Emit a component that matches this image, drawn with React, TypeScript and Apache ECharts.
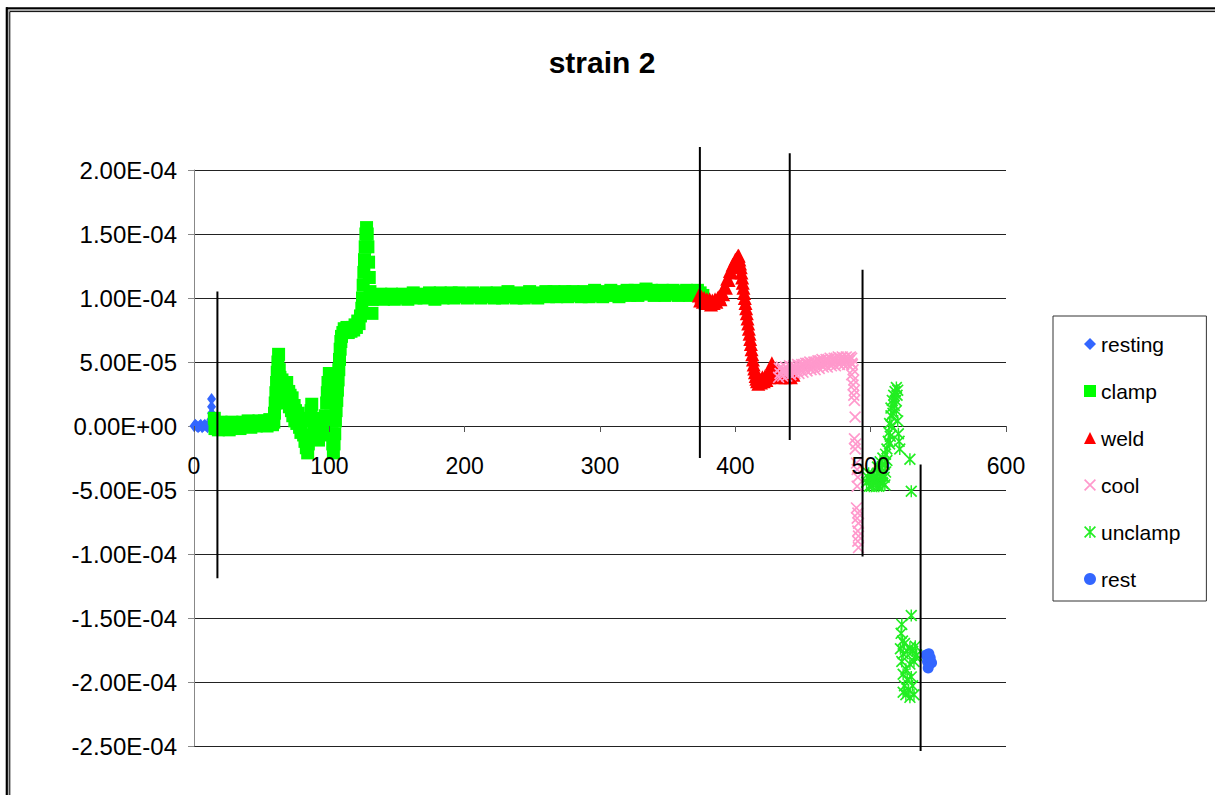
import { useEffect, useRef } from "react";
import * as echarts from "echarts";

const FONT = "'Liberation Sans', Arial, sans-serif";

// values in microstrain (1e-6)
const restingPoints: [number, number][] = [
  [0, 0], [1, 1], [2, 0], [3, -1], [4, 0], [5, 1], [6, -1], [7, 0], [8, 1], [9, 0],
  [10, -1], [11, 1], [12, 2], [12.5, 5], [13, 10], [13, 15], [13, 21], [14, 6],
];

const clampPoints: [number, number][] = [
  [15, 6], [15.5, -2], [16, 2], [18, -3], [20, 3], [22, -2], [24, 2], [26, -3], [28, 3], [30, -1],
  [32, 2], [34, -2], [36, 3], [38, 0], [40, 4], [42, -1], [44, 3], [46, 0], [48, 4], [50, 1],
  [52, 4], [54, 0], [56, 5], [58, 1], [59, 3], [59.5, 10], [60, 18], [60.5, 26], [61, 34], [61.5, 42],
  [62, 50], [62.5, 56], [63, 44], [63.5, 38], [64, 30], [65, 36], [65.5, 26], [66, 32], [66.5, 20], [67, 29],
  [68, 22], [68.5, 34], [69, 18], [70, 27], [70.5, 15], [71, 24], [72, 12], [72.5, 22], [73, 8], [74, 16],
  [74.5, 4], [75, 12], [76, 2], [77, 10], [78, -1], [79, -5], [80, 6], [81, -7], [82, -12], [83, -17],
  [84, -21], [84.5, -14], [85, -8], [86, 4], [86.5, 12], [87, 17], [88, 6], [88.5, -2], [89, -6], [90, 2],
  [91, -8], [92, -11], [92.5, -3], [93, 2], [94, -6], [95, 4], [96, -7], [96.5, 0], [97, 8], [98, 18],
  [98.5, 26], [99, 34], [100, 41], [100.5, 30], [101, 18], [101.5, 6], [102, -6], [102.5, -14], [103, -21], [103.5, -14],
  [104, -6], [104.5, 4], [105, 12], [105.5, 20], [106, 28], [106.5, 36], [107, 44], [107.5, 52], [108, 60], [108.5, 66],
  [109, 70], [110, 73], [111, 76], [112, 74], [113, 77], [114, 73], [115, 76], [116, 74], [117, 77], [118, 75],
  [119, 79], [120, 77], [121, 82], [122, 80], [123, 86], [124, 92], [124.5, 100], [125, 110], [125.5, 120], [126, 130],
  [126.5, 140], [127, 150], [127.5, 155], [128, 150], [128.5, 140], [129, 128], [129.5, 116], [130, 105], [131, 99], [131.5, 88],
  [132, 99], [134, 102], [136, 100], [138, 103], [140, 99], [142, 102], [144, 101], [146, 103], [148, 99], [150, 102],
  [152, 100], [154, 103], [156, 101], [158, 99], [160, 102], [162, 104], [164, 100], [166, 102], [168, 103], [170, 100],
  [172, 102], [174, 104], [176, 101], [178, 99], [180, 102], [182, 104], [184, 100], [186, 103], [188, 101], [190, 104],
  [192, 100], [194, 102], [196, 104], [198, 101], [200, 103], [202, 100], [204, 102], [206, 104], [208, 101], [210, 103],
  [212, 100], [214, 102], [216, 104], [218, 101], [220, 103], [222, 100], [224, 104], [226, 102], [228, 100], [230, 103],
  [232, 105], [234, 101], [236, 103], [238, 100], [240, 104], [242, 102], [244, 100], [246, 103], [248, 105], [250, 101],
  [252, 103], [254, 100], [256, 104], [258, 102], [260, 105], [262, 101], [264, 103], [266, 105], [268, 101], [270, 104],
  [272, 102], [274, 105], [276, 101], [278, 103], [280, 105], [282, 102], [284, 104], [286, 101], [288, 105], [290, 103],
  [292, 101], [294, 104], [296, 106], [298, 102], [300, 104], [302, 101], [304, 105], [306, 103], [308, 106], [310, 102],
  [312, 104], [314, 101], [316, 105], [318, 103], [320, 106], [322, 102], [324, 104], [326, 106], [328, 102], [330, 105],
  [332, 103], [334, 107], [336, 104], [338, 106], [340, 102], [342, 105], [344, 103], [346, 106], [348, 102], [350, 105],
  [352, 103], [354, 106], [356, 104], [358, 102], [360, 105], [362, 103], [364, 106], [366, 102], [368, 105], [370, 103],
  [372, 106], [374, 104], [376, 102],
];

const weldPoints: [number, number][] = [
  [373, 102], [374, 98], [375, 101], [376, 97], [377, 100], [378, 96], [379, 99], [380, 96], [381, 99], [382, 95],
  [383, 98], [384, 96], [385, 99], [386, 97], [387, 100], [388, 101], [389, 99], [390, 104], [391, 103], [392, 109],
  [393, 108], [394, 115], [395, 114], [396, 121], [397, 120], [398, 126], [399, 125], [400, 130], [401, 131], [402, 133],
  [402.5, 133], [403, 130], [403.5, 127], [404, 124], [404.5, 120], [405, 116], [405.5, 112], [406, 108], [406.5, 104], [407, 100],
  [407.5, 96], [408, 92], [408.5, 88], [409, 84], [409.5, 80], [410, 76], [410.5, 72], [411, 68], [411.5, 64], [412, 60],
  [412.5, 56], [413, 52], [413.5, 48], [414, 45], [414.5, 42], [415, 39], [415.5, 37], [416, 35], [417, 33], [418, 37],
  [419, 34], [420, 38], [421, 35], [422, 39], [423, 36], [424, 40], [425, 38], [426, 45], [427, 49], [428, 46],
  [429, 42], [430, 39], [431, 43], [432, 40], [433, 38], [434, 42], [435, 39], [436, 41], [437, 38], [438, 42],
  [439, 39], [440, 41], [441, 38], [442, 42], [443, 40],
];

const coolPoints: [number, number][] = [
  [432, 38], [432.5, 45], [433, 41], [434, 46], [435, 39], [435.5, 44], [436, 42], [437, 46], [438, 39], [438.5, 45],
  [439, 42], [440, 47], [441, 40], [441.5, 46], [442, 43], [443, 47], [444, 41], [444.5, 46], [445, 43], [446, 48],
  [447, 41], [447.5, 47], [448, 44], [449, 48], [450, 42], [450.5, 48], [451, 45], [452, 49], [453, 43], [453.5, 49],
  [454, 46], [455, 50], [456, 44], [456.5, 49], [457, 46], [458, 50], [459, 44], [459.5, 50], [460, 47], [461, 51],
  [462, 45], [462.5, 51], [463, 48], [464, 52], [465, 46], [465.5, 51], [466, 48], [467, 52], [468, 46], [468.5, 52],
  [469, 49], [470, 53], [471, 47], [471.5, 52], [472, 49], [473, 53], [474, 47], [474.5, 53], [475, 50], [476, 54],
  [477, 48], [477.5, 53], [478, 50], [479, 54], [480, 48], [480.5, 53], [481, 51], [482, 54], [483, 48], [483.5, 53],
  [484, 51], [485, 54], [486, 49], [486, 53], [486.5, 48], [487, 44], [486, 40], [487.5, 36], [487, 32], [488, 28],
  [487.5, 24], [488, 20], [488.5, 7], [488, -10], [489, -14], [488.5, -18], [489.5, -29], [490, -34], [490.5, -40], [490, -47],
  [489.5, -64], [490.5, -68], [490, -72], [491, -76], [490.5, -82], [491, -86], [490.5, -90], [491, -95],
];

const unclampPoints: [number, number][] = [
  [497, -44], [498, -40], [499, -47], [500, -42], [501, -38], [502, -46], [503, -41], [504, -44], [505, -37], [506, -47],
  [507, -42], [508, -39], [509, -45], [510, -40], [511, -36], [498.5, -37], [500.5, -47], [502.5, -39], [504.5, -47], [506.5, -38],
  [508.5, -44], [510.5, -46], [505, -32], [507, -28], [508, -33], [509, -25], [510, -30], [511, -22], [512, -27], [512, -18],
  [513, -12], [513.5, -5], [514, -14], [514, 2], [514.5, -8], [515, 8], [515.5, 0], [515, 14], [516, 20], [516.5, 10],
  [517, 24], [517.5, 16], [518, 27], [518.5, 20], [519, 30], [519.5, 24], [520, 28], [519, 12], [520, 4], [520.5, -6],
  [521, -12], [521.5, -18], [529, -26], [530, -51],
  [530, -148], [523, -155], [522.5, -162], [523.5, -168], [522, -174], [524, -178], [523, -184], [525, -170], [527, -176], [529, -173],
  [531, -176], [533, -172], [534, -179], [532, -184], [529, -186], [526, -190], [524, -194], [527, -198], [530, -196], [525, -203],
  [528, -206], [531, -203], [526, -210], [529, -212], [524, -208], [532, -210], [533, -180],
];

const restPoints: [number, number][] = [
  [541, -179], [542, -184], [543, -178], [543.5, -186], [544, -181], [545, -185], [542.5, -189],
];

// phase divider lines: x, top, bottom (microstrain)
const dividerX = [17.3, 373.8, 440.2, 494, 536.9];
const dividerTop = [105, 218, 213, 122, -30];
const dividerBottom = [-119, -25, -11, -102, -254];

const yTicks = { min: -0.00025, max: 0.0002, interval: 0.00005 };
const xTicks = { min: 0, max: 600, interval: 100 };

const X_PATH = "path://M0,1L1,0L10,9L9,10ZM9,0L10,1L1,10L0,9Z";
const STAR_PATH = "path://M0,1L1,0L10,9L9,10ZM9,0L10,1L1,10L0,9ZM4.4,0L5.6,0L5.6,10L4.4,10Z";

const toStrain = (pts: [number, number][]) => pts.map(([x, y]) => [x, y * 1e-6]);

function fmtSci(v: number): string {
  if (Math.abs(v) < 1e-12) v = 0;
  const s = v.toExponential(2);
  const [m, e] = s.split("e");
  const sign = e[0] === "-" ? "-" : "+";
  const d = e.replace(/[+-]/, "").padStart(2, "0");
  return m + "E" + sign + d;
}

export default function App() {
  const ref = useRef<HTMLDivElement>(null);
  useEffect(() => {
    if (!ref.current) return;
    const chart = echarts.init(ref.current, undefined, { renderer: "svg" });
    const dividers = dividerX.map((x, i) => ({
      type: "line",
      data: [
        [x, dividerTop[i] * 1e-6],
        [x, dividerBottom[i] * 1e-6],
      ],
      symbol: "none",
      clip: false,
      silent: true,
      z: 10,
      lineStyle: { color: "#000", width: 2 },
    }));
    chart.setOption({
      animation: false,
      backgroundColor: "#fff",
      title: {
        text: "strain 2",
        left: 602,
        textAlign: "center",
        top: 47,
        padding: 0,
        textStyle: { fontFamily: FONT, fontSize: 30, fontWeight: "bold", color: "#000" },
      },
      grid: { left: 194, top: 170, width: 812, height: 576 },
      legend: {
        orient: "vertical",
        left: 1053,
        top: 316,
        padding: [14, 26, 8, 31],
        itemGap: 19,
        itemWidth: 12,
        itemHeight: 12,
        borderColor: "#333",
        borderWidth: 1,
        textStyle: { fontFamily: FONT, fontSize: 21, color: "#000", lineHeight: 28 },
        data: ["resting", "clamp", "weld", "cool", "unclamp", "rest"],
      },
      xAxis: {
        type: "value",
        ...xTicks,
        offset: -320,
        z: 5,
        axisLine: { show: false, onZero: false },
        axisTick: { show: true, length: 6, lineStyle: { color: "#555" } },
        axisLabel: { margin: 28, fontFamily: FONT, fontSize: 23, color: "#000" },
        splitLine: { show: false },
      },
      yAxis: {
        type: "value",
        ...yTicks,
        axisLine: { show: true, onZero: false, lineStyle: { color: "#888", width: 1 } },
        axisTick: { show: true, length: 6, lineStyle: { color: "#888" } },
        axisLabel: { margin: 17, fontFamily: FONT, fontSize: 24, color: "#000", formatter: fmtSci },
        splitLine: { show: true, lineStyle: { color: "#222", width: 1 } },
      },
      graphic: [
        { type: "line", shape: { x1: 6, y1: 8.3, x2: 1215, y2: 8.3 }, style: { stroke: "#000", lineWidth: 2.2 } },
        { type: "line", shape: { x1: 6.8, y1: 7.3, x2: 6.8, y2: 795 }, style: { stroke: "#000", lineWidth: 2.2 } },
        { type: "line", shape: { x1: 8.7, y1: 10.2, x2: 1215, y2: 10.2 }, style: { stroke: "#aaa", lineWidth: 1.4 } },
        { type: "line", shape: { x1: 8.7, y1: 10.2, x2: 8.7, y2: 795 }, style: { stroke: "#aaa", lineWidth: 1.4 } },
        { type: "line", shape: { x1: 9.8, y1: 11.6, x2: 1215, y2: 11.6 }, style: { stroke: "#000", lineWidth: 1 } },
        { type: "line", shape: { x1: 9.8, y1: 11.6, x2: 9.8, y2: 795 }, style: { stroke: "#000", lineWidth: 1 } },
      ],
      series: [
        {
          name: "resting", type: "scatter", symbol: "diamond", symbolSize: [9, 12],
          itemStyle: { color: "#3366FF", opacity: 1 }, data: toStrain(restingPoints),
        },
        {
          name: "clamp", type: "scatter", symbol: "rect", symbolSize: 13,
          itemStyle: { color: "#00FF00", opacity: 1 }, data: toStrain(clampPoints),
        },
        {
          name: "weld", type: "scatter", symbol: "triangle", symbolSize: 14,
          itemStyle: { color: "#FF0000", opacity: 1 }, data: toStrain(weldPoints),
        },
        {
          name: "cool", type: "scatter", symbol: X_PATH, symbolSize: 12,
          itemStyle: { color: "#FF99CC", opacity: 1 }, data: toStrain(coolPoints),
        },
        {
          name: "unclamp", type: "scatter", symbol: STAR_PATH, symbolSize: 12,
          itemStyle: { color: "#22EE22", opacity: 1 }, data: toStrain(unclampPoints),
        },
        {
          name: "rest", type: "scatter", symbol: "circle", symbolSize: 11,
          itemStyle: { color: "#3366FF", opacity: 1 }, data: toStrain(restPoints),
        },
        ...dividers,
      ],
    });
    return () => chart.dispose();
  }, []);
  return (
    <div
      ref={ref}
      style={{ position: "fixed", left: 0, top: 0, width: 1215, height: 795, background: "#fff" }}
    />
  );
}
